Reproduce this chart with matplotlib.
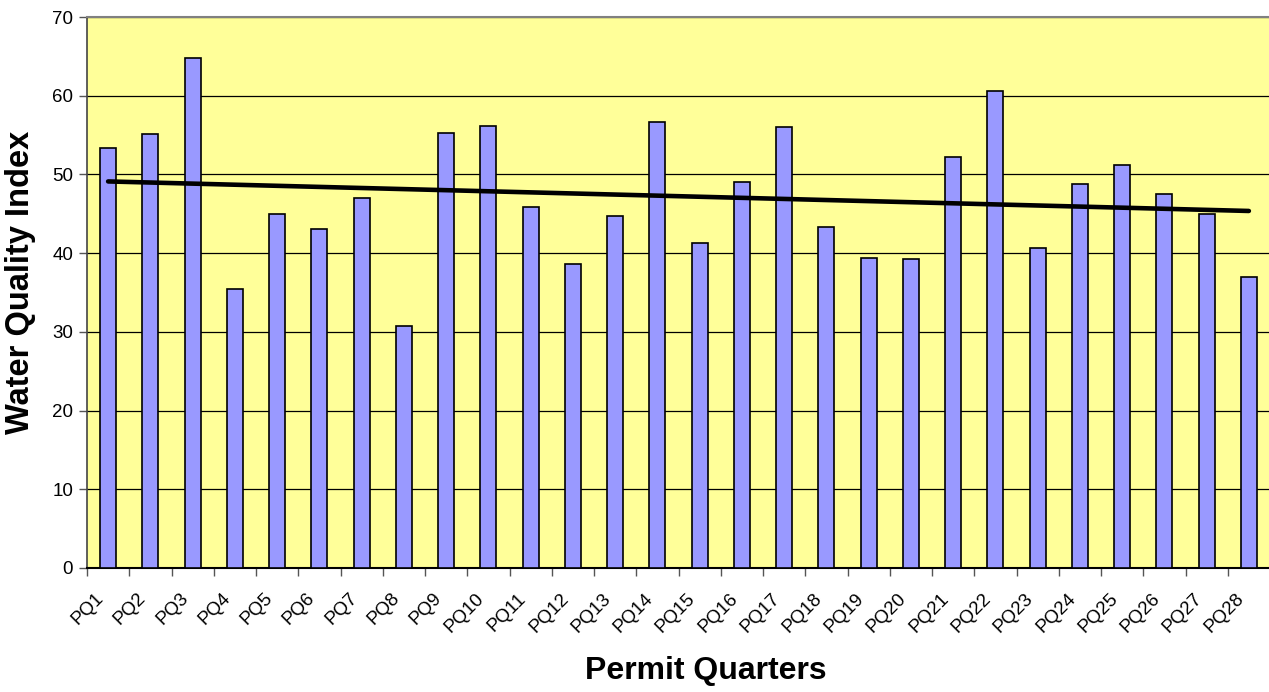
import numpy as np
import matplotlib
matplotlib.use("Agg")
import matplotlib.pyplot as plt
import matplotlib.transforms as mtransforms
from matplotlib.ticker import FixedLocator

categories = [f"PQ{i}" for i in range(1, 29)]
values = [53.3, 55.1, 64.75, 35.4, 44.95, 43.1, 47.0, 30.7, 55.3, 56.1,
          45.8, 38.65, 44.7, 56.6, 41.35, 49.07, 55.98, 43.35, 39.37, 39.3,
          52.16, 60.6, 40.68, 48.77, 51.15, 47.46, 44.92, 36.95]
y_ticks = [0, 10, 20, 30, 40, 50, 60, 70]

plt.rcParams['font.family'] = ['Liberation Sans', 'DejaVu Sans']

fig = plt.figure(figsize=(12.69, 6.92), dpi=100)
ax = fig.add_axes([87/1269, 124/692, 1183/1269, 551/692])

x = np.arange(len(categories))
ax.set_facecolor('#FFFF99')
ax.bar(x, values, width=0.38, color='#9999FF', edgecolor='black', linewidth=1.2, zorder=3)

# linear trendline
coef = np.polyfit(x, values, 1)
trend = np.polyval(coef, x)
ax.plot([x[0], x[-1]], [trend[0], trend[-1]], color='black', linewidth=3.3,
        solid_capstyle='round', zorder=4)

ax.set_xlim(-0.5, len(categories) - 0.5)
ax.set_ylim(0, 70)
ax.set_yticks(y_ticks)
ax.yaxis.grid(True, color='black', linewidth=0.9, zorder=0)
ax.set_axisbelow(True)

ax.set_xticks(x)
ax.set_xticklabels(categories, rotation=45, ha='right', va='center',
                   rotation_mode='anchor', fontsize=13.5)
ax.tick_params(axis='x', which='major', length=0, pad=20)
offset = mtransforms.ScaledTranslation(-7/100, 0, fig.dpi_scale_trans)
for lab in ax.get_xticklabels():
    lab.set_transform(lab.get_transform() + offset)
ax.xaxis.set_minor_locator(FixedLocator(np.arange(-0.5, len(categories), 1.0)))
ax.tick_params(axis='x', which='minor', length=6, width=1, color='#555555', direction='out')
ax.tick_params(axis='y', length=6, width=1, color='#555555', labelsize=13.5, pad=4)

ax.spines['top'].set_color('#808080')
ax.spines['top'].set_linewidth(1.5)
ax.spines['right'].set_visible(False)
ax.spines['left'].set_color('#444444')
ax.spines['left'].set_linewidth(1.2)
ax.spines['bottom'].set_color('black')
ax.spines['bottom'].set_linewidth(1.5)

fig.text(706/1269, 1 - 671/692, 'Permit Quarters', ha='center', va='center',
         fontsize=23, fontweight='bold')
fig.text(21/1269, 1 - 282/692, 'Water Quality Index', ha='center', va='center',
         rotation=90, fontsize=23.5, fontweight='bold')

fig.savefig('out.png', dpi=100)
